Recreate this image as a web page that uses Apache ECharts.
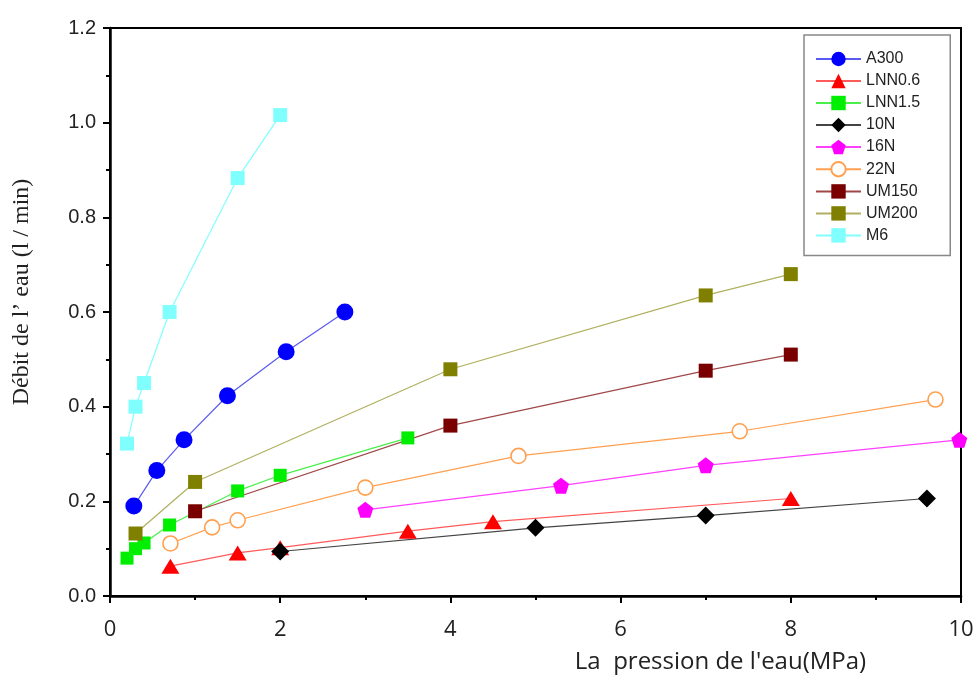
<!DOCTYPE html>
<html>
<head>
<meta charset="utf-8">
<script src="https://cdn.jsdelivr.net/npm/echarts@6/dist/echarts.min.js"></script>
<style>
html,body{margin:0;padding:0;background:#fff;}
#chart{width:976px;height:675px;}
</style>
</head>
<body>
<div id="chart"></div>
<script>
// ---- Data ----
const seriesNames = ['A300','LNN0.6','LNN1.5','10N','16N','22N','UM150','UM200','M6'];

const A300_x  = [0.28, 0.55, 0.87, 1.38, 2.07, 2.76];
const A300_y  = [0.19, 0.265, 0.33, 0.423, 0.516, 0.60];

const LNN06_x = [0.71, 1.5, 2.0, 3.5, 4.5, 8.0];
const LNN06_y = [0.063, 0.091, 0.102, 0.137, 0.157, 0.206];

const LNN15_x = [0.2, 0.3, 0.4, 0.7, 1.5, 2.0, 3.5];
const LNN15_y = [0.08, 0.10, 0.112, 0.15, 0.222, 0.255, 0.334];

const N10_x   = [2.0, 5.0, 7.0, 9.6];
const N10_y   = [0.094, 0.144, 0.170, 0.206];

const N16_x   = [3.0, 5.3, 7.0, 9.98];
const N16_y   = [0.182, 0.233, 0.276, 0.330];

const N22_x   = [0.71, 1.2, 1.5, 3.0, 4.8, 7.4, 9.7];
const N22_y   = [0.111, 0.145, 0.160, 0.229, 0.296, 0.348, 0.415];

const UM150_x = [1.0, 4.0, 7.0, 8.0];
const UM150_y = [0.179, 0.360, 0.476, 0.510];

const UM200_x = [0.3, 1.0, 4.0, 7.0, 8.0];
const UM200_y = [0.132, 0.241, 0.479, 0.635, 0.680];

const M6_x    = [0.2, 0.3, 0.4, 0.7, 1.5, 2.0];
const M6_y    = [0.322, 0.40, 0.45, 0.60, 0.883, 1.016];

const xTicks = [0, 2, 4, 6, 8, 10];
const yTicks = ['0.0','0.2','0.4','0.6','0.8','1.0','1.2'];

// ---- Build ----
const pairs = (xs, ys) => xs.map((x, i) => [x, ys[i]]);
const pentagon = 'path://M0,-1 L0.951,-0.309 L0.588,0.809 L-0.588,0.809 L-0.951,-0.309 Z';

const styles = [
  {sym:'circle',   size:17,      fill:'#0000ff', line:'#5a5af0'},
  {sym:'triangle', size:[18,15], fill:'#ff0000', line:'#ff5a5a'},
  {sym:'rect',     size:13,      fill:'#00ee00', line:'#48f048'},
  {sym:'diamond',  size:18,      fill:'#000000', line:'#444444'},
  {sym:pentagon,   size:16,      fill:'#ff00ff', line:'#ff40ff'},
  {sym:'circle',   size:15,      fill:'#ffffff', line:'#ffa050', stroke:'#ffa050'},
  {sym:'rect',     size:14,      fill:'#7a0000', line:'#a04848'},
  {sym:'rect',     size:14,      fill:'#808000', line:'#b0b060'},
  {sym:'rect',     size:14,      fill:'#80ffff', line:'#80ffff'}
];
const dataSets = [
  pairs(A300_x, A300_y), pairs(LNN06_x, LNN06_y), pairs(LNN15_x, LNN15_y),
  pairs(N10_x, N10_y), pairs(N16_x, N16_y), pairs(N22_x, N22_y),
  pairs(UM150_x, UM150_y), pairs(UM200_x, UM200_y), pairs(M6_x, M6_y)
];

const series = seriesNames.map((name, i) => {
  const s = styles[i];
  return {
    name: name,
    type: 'line',
    data: dataSets[i],
    symbol: s.sym,
    symbolSize: s.size,
    showAllSymbol: true,
    clip: false,
    lineStyle: {color: s.line, width: 1.2},
    itemStyle: {
      color: s.fill,
      borderColor: s.stroke || s.fill,
      borderWidth: s.stroke ? 1.6 : 0
    },
    emphasis: {disabled: true},
    animation: false
  };
});

const chart = echarts.init(document.getElementById('chart'), null, {renderer: 'canvas'});
chart.setOption({
  animation: false,
  backgroundColor: '#ffffff',
  grid: {left: 110, right: 15, top: 28, bottom: 79, outerBoundsMode: 'none', containLabel: false,
         show: true, borderColor: '#000', borderWidth: 2, backgroundColor: 'transparent'},
  legend: {
    data: seriesNames,
    orient: 'vertical',
    left: 804,
    top: 35,
    itemWidth: 45,
    itemHeight: 18,
    itemGap: 6,
    padding: [16, 30, 12, 11],
    backgroundColor: '#fff',
    borderColor: '#888',
    borderWidth: 1.5,
    borderRadius: 0,
    textStyle: {fontFamily: 'Liberation Sans, Arial, sans-serif', fontSize: 16, color: '#222'}
  },
  xAxis: {
    type: 'value',
    min: 0, max: 10, interval: 2,
    name: 'La  pression de l\'eau(MPa)',
    nameLocation: 'middle',
    nameGap: 54,
    nameTextStyle: {fontFamily: 'Open Sans, sans-serif', fontSize: 24, color: '#222', padding: [0, 0, 0, 370]},
    axisLine: {show: true, onZero: false, lineStyle: {color: '#000', width: 2.5}},
    axisTick: {show: true, inside: false, length: 7, lineStyle: {color: '#000', width: 2}},
    minorTick: {show: true, splitNumber: 2, length: 4, lineStyle: {color: '#000', width: 2}},
    splitLine: {show: false},
    axisLabel: {
      margin: 23,
      fontFamily: 'Liberation Sans Narrow, Open Sans, sans-serif', fontSize: 22, color: '#222',
      formatter: v => xTicks.indexOf(v) >= 0 ? String(v) : ''
    }
  },
  yAxis: {
    type: 'value',
    min: 0, max: 1.2, interval: 0.2,
    name: 'Débit de l\u2019 eau (l / min)',
    nameLocation: 'middle',
    nameGap: 76,
    nameRotate: 90,
    nameTextStyle: {fontFamily: 'Liberation Serif, Times New Roman, serif', fontSize: 24, color: '#222', padding: [0, 0, 0, 40]},
    axisLine: {show: true, onZero: false, lineStyle: {color: '#000', width: 2.5}},
    axisTick: {show: true, inside: false, length: 7, lineStyle: {color: '#000', width: 2}},
    minorTick: {show: true, splitNumber: 2, length: 4, lineStyle: {color: '#000', width: 2}},
    splitLine: {show: false},
    axisLabel: {
      margin: 14,
      fontFamily: 'Liberation Sans, Arial, sans-serif', fontSize: 20, color: '#222',
      formatter: v => yTicks[Math.round(v / 0.2)] || ''
    }
  },
  series: series
});
</script>
</body>
</html>
